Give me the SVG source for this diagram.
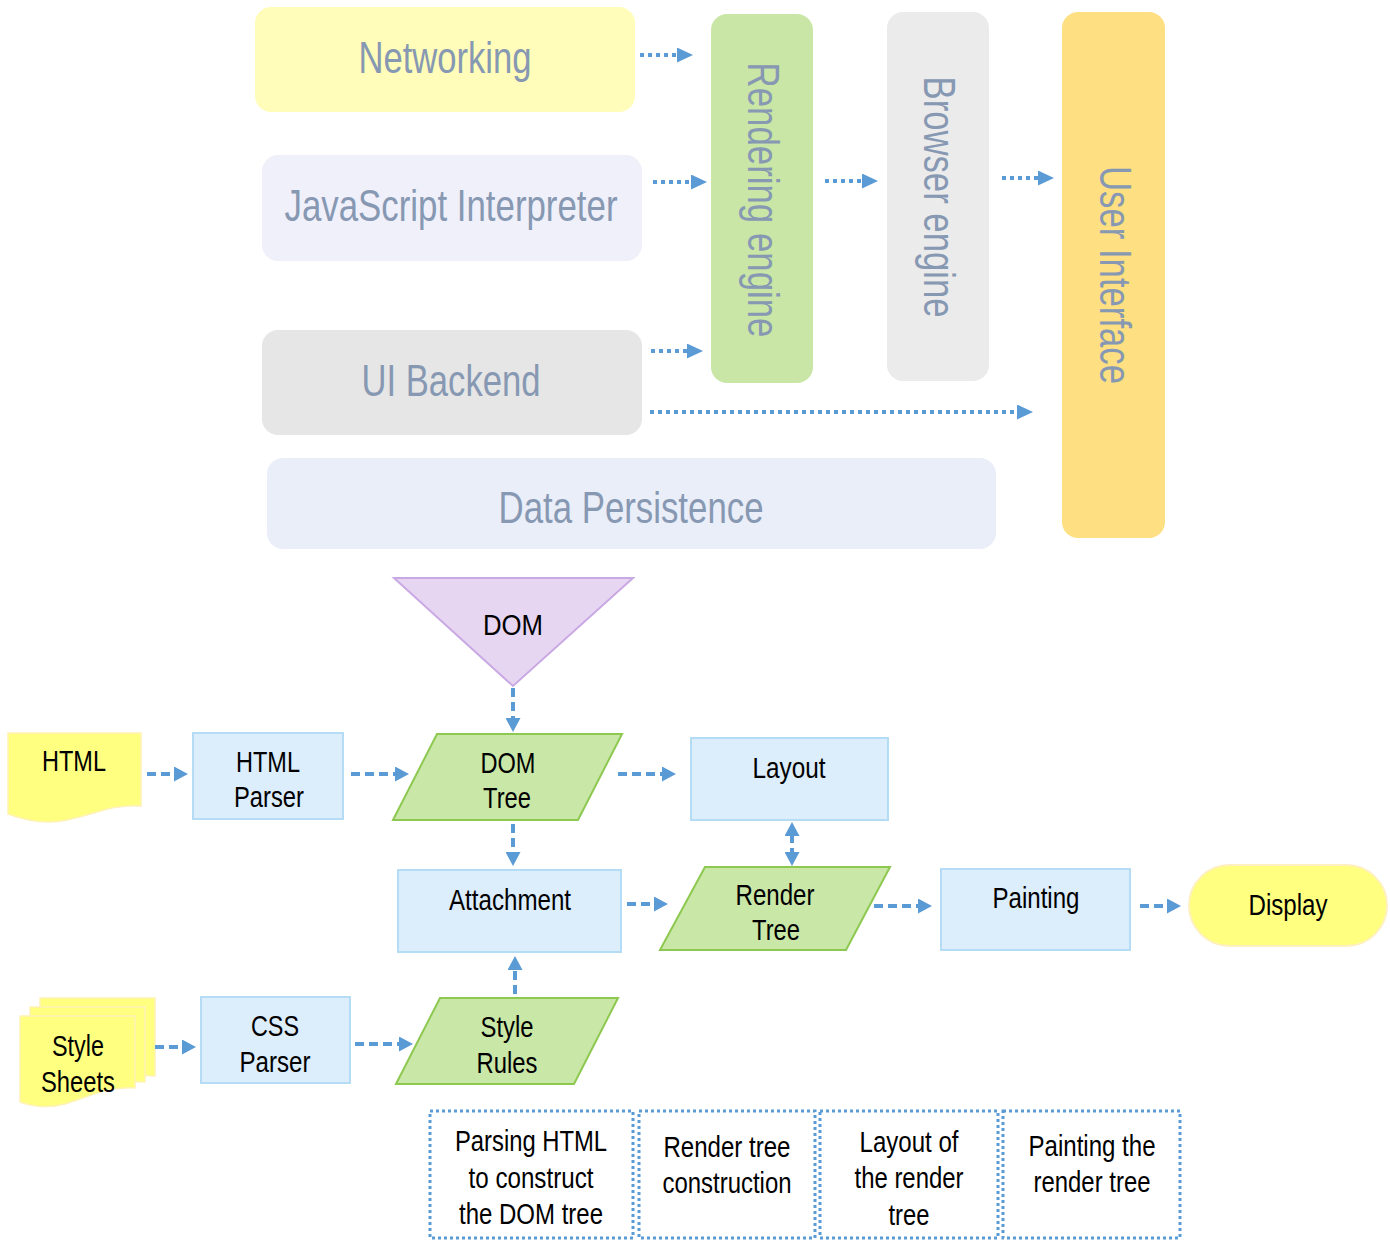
<svg xmlns="http://www.w3.org/2000/svg" width="1390" height="1240" viewBox="0 0 1390 1240">
<style>
.top{font-family:"Liberation Sans Narrow","Liberation Sans",Arial,sans-serif;font-size:44px;fill:#8798b3;text-anchor:middle}
.t{font-family:"Liberation Sans Narrow","Liberation Sans",Arial,sans-serif;font-size:30px;fill:#000;text-anchor:middle}
.dot{fill:none;stroke:#5b9bd5;stroke-width:4;stroke-dasharray:4 4}
.dash{fill:none;stroke:#5b9bd5;stroke-width:4;stroke-dasharray:9 5}
.blue{fill:#dcedfb;stroke:#b4dcf4;stroke-width:2}
.green{fill:#c9e7a7;stroke:#8dc850;stroke-width:2}
.doc{fill:#ffff80;stroke:#fff2b5;stroke-width:1.5}
.box{fill:none;stroke:#5b9bd5;stroke-width:3;stroke-dasharray:3 3}
</style>
<defs>
<marker id="ha" markerUnits="userSpaceOnUse" markerWidth="16" markerHeight="15" refX="2" refY="7.5" orient="auto"><path d="M0,0 L16,7.5 L0,15 Z" fill="#5b9bd5"/></marker>
<marker id="hb" markerUnits="userSpaceOnUse" markerWidth="14" markerHeight="15" refX="2" refY="7.5" orient="auto-start-reverse"><path d="M0,0 L14,7.5 L0,15 Z" fill="#5b9bd5"/></marker>
</defs>

<g id="networking"><rect x="255" y="7" width="380" height="105" rx="16" fill="#fffdb9"/><text class="top" x="445" y="73" textLength="173" lengthAdjust="spacingAndGlyphs">Networking</text></g>
<g id="js-interpreter"><rect x="262" y="155" width="380" height="106" rx="16" fill="#f0f0fa"/><text class="top" x="451" y="221" textLength="333" lengthAdjust="spacingAndGlyphs">JavaScript Interpreter</text></g>
<g id="ui-backend"><rect x="262" y="330" width="380" height="105" rx="16" fill="#e6e6e6"/><text class="top" x="451" y="396" textLength="179" lengthAdjust="spacingAndGlyphs">UI Backend</text></g>
<g id="data-persistence"><rect x="267" y="458" width="729" height="91" rx="16" fill="#eaeef8"/><text class="top" x="631" y="523" textLength="265" lengthAdjust="spacingAndGlyphs">Data Persistence</text></g>
<g id="rendering-engine"><rect x="711" y="14" width="102" height="369" rx="16" fill="#c9e6a6"/><text class="top" transform="translate(764,200) rotate(90)" x="0" y="16" textLength="275" lengthAdjust="spacingAndGlyphs">Rendering engine</text></g>
<g id="browser-engine"><rect x="887" y="12" width="102" height="369" rx="16" fill="#ebebeb"/><text class="top" transform="translate(940,197) rotate(90)" x="0" y="16" textLength="241" lengthAdjust="spacingAndGlyphs">Browser engine</text></g>
<g id="user-interface"><rect x="1062" y="12" width="103" height="526" rx="16" fill="#fedf82"/><text class="top" transform="translate(1116,275) rotate(90)" x="0" y="16" textLength="218" lengthAdjust="spacingAndGlyphs">User Interface</text></g>

<g id="dom"><polygon points="394,578 633,578 513,686" fill="#e7d6f2" stroke="#c9a9e3" stroke-width="2"/><text class="t" x="513" y="635" textLength="60" lengthAdjust="spacingAndGlyphs">DOM</text></g>
<g id="html"><path class="doc" d="M8,733 H141 V806 C115,804 100,812 75,818 C50,825 30,822 8,814 Z"/><text class="t" x="74" y="771" textLength="64" lengthAdjust="spacingAndGlyphs">HTML</text></g>
<g id="html-parser"><rect class="blue" x="193" y="733" width="150" height="86"/><text class="t" x="268" y="772" textLength="64" lengthAdjust="spacingAndGlyphs">HTML</text><text class="t" x="269" y="807" textLength="70" lengthAdjust="spacingAndGlyphs">Parser</text></g>
<g id="dom-tree"><polygon class="green" points="393,820 437,734 622,734 578,820"/><text class="t" x="508" y="773" textLength="55" lengthAdjust="spacingAndGlyphs">DOM</text><text class="t" x="507" y="808" textLength="48" lengthAdjust="spacingAndGlyphs">Tree</text></g>
<g id="layout"><rect class="blue" x="691" y="738" width="197" height="82"/><text class="t" x="789" y="778" textLength="73" lengthAdjust="spacingAndGlyphs">Layout</text></g>
<g id="attachment"><rect class="blue" x="398" y="870" width="223" height="82"/><text class="t" x="510" y="910" textLength="122" lengthAdjust="spacingAndGlyphs">Attachment</text></g>
<g id="render-tree"><polygon class="green" points="660,950 705,867 890,867 846,950"/><text class="t" x="775" y="905" textLength="79" lengthAdjust="spacingAndGlyphs">Render</text><text class="t" x="776" y="940" textLength="48" lengthAdjust="spacingAndGlyphs">Tree</text></g>
<g id="painting"><rect class="blue" x="941" y="869" width="189" height="81"/><text class="t" x="1036" y="908" textLength="87" lengthAdjust="spacingAndGlyphs">Painting</text></g>
<g id="display"><rect x="1189" y="865" width="198" height="81" rx="40.5" fill="#ffff80" stroke="#fff0c0" stroke-width="2"/><text class="t" x="1288" y="915" textLength="79" lengthAdjust="spacingAndGlyphs">Display</text></g>
<g id="style-sheets"><path class="doc" d="M40,998 H155 V1076 C130,1074 110,1080 90,1086 L40,1086 Z"/><path class="doc" d="M30,1007 H145 V1082 C120,1080 100,1088 80,1094 L30,1094 Z"/><path class="doc" d="M20,1016 H135 V1088 C110,1086 90,1096 65,1104 C45,1109 32,1106 20,1102 Z"/><text class="t" x="78" y="1056" textLength="52" lengthAdjust="spacingAndGlyphs">Style</text><text class="t" x="78" y="1092" textLength="74" lengthAdjust="spacingAndGlyphs">Sheets</text></g>
<g id="css-parser"><rect class="blue" x="201" y="997" width="149" height="86"/><text class="t" x="275" y="1036" textLength="48" lengthAdjust="spacingAndGlyphs">CSS</text><text class="t" x="275" y="1072" textLength="71" lengthAdjust="spacingAndGlyphs">Parser</text></g>
<g id="style-rules"><polygon class="green" points="396,1084 440,998 618,998 574,1084"/><text class="t" x="507" y="1037" textLength="53" lengthAdjust="spacingAndGlyphs">Style</text><text class="t" x="507" y="1073" textLength="61" lengthAdjust="spacingAndGlyphs">Rules</text></g>

<g id="phase-parsing"><rect class="box" x="430" y="1111" width="203" height="127"/><text class="t" x="531" y="1151" textLength="152" lengthAdjust="spacingAndGlyphs">Parsing HTML</text><text class="t" x="531" y="1188" textLength="125" lengthAdjust="spacingAndGlyphs">to construct</text><text class="t" x="531" y="1224" textLength="144" lengthAdjust="spacingAndGlyphs">the DOM tree</text></g>
<g id="phase-render"><rect class="box" x="639" y="1111" width="176" height="127"/><text class="t" x="727" y="1157" textLength="127" lengthAdjust="spacingAndGlyphs">Render tree</text><text class="t" x="727" y="1193" textLength="129" lengthAdjust="spacingAndGlyphs">construction</text></g>
<g id="phase-layout"><rect class="box" x="820" y="1111" width="178" height="127"/><text class="t" x="909" y="1152" textLength="99" lengthAdjust="spacingAndGlyphs">Layout of</text><text class="t" x="909" y="1188" textLength="109" lengthAdjust="spacingAndGlyphs">the render</text><text class="t" x="909" y="1225" textLength="41" lengthAdjust="spacingAndGlyphs">tree</text></g>
<g id="phase-painting"><rect class="box" x="1003" y="1111" width="177" height="127"/><text class="t" x="1092" y="1156" textLength="127" lengthAdjust="spacingAndGlyphs">Painting the</text><text class="t" x="1092" y="1192" textLength="117" lengthAdjust="spacingAndGlyphs">render tree</text></g>

<g id="connectors">
<path class="dot" d="M640,55 H679" marker-end="url(#ha)"/>
<path class="dot" d="M653,182 H693" marker-end="url(#ha)"/>
<path class="dot" d="M825,181 H864" marker-end="url(#ha)"/>
<path class="dot" d="M1002,178 H1040" marker-end="url(#ha)"/>
<path class="dot" d="M651,351 H689" marker-end="url(#ha)"/>
<path class="dot" d="M650,412 H1019" marker-end="url(#ha)"/>
<path class="dash" d="M513,688 V720" marker-end="url(#hb)"/>
<path class="dash" d="M147,774 H176" marker-end="url(#hb)"/>
<path class="dash" d="M351,774 H397" marker-end="url(#hb)"/>
<path class="dash" d="M618,774 H664" marker-end="url(#hb)"/>
<path class="dash" d="M513,824 V854" marker-end="url(#hb)"/>
<path class="dash" d="M792,834 V854" marker-start="url(#hb)" marker-end="url(#hb)"/>
<path class="dash" d="M627,904 H656" marker-end="url(#hb)"/>
<path class="dash" d="M874,906 H920" marker-end="url(#hb)"/>
<path class="dash" d="M1140,906 H1169" marker-end="url(#hb)"/>
<path class="dash" d="M155,1047 H184" marker-end="url(#hb)"/>
<path class="dash" d="M355,1044 H401" marker-end="url(#hb)"/>
<path class="dash" d="M515,994 V968" marker-end="url(#hb)"/>
</g>
</svg>
